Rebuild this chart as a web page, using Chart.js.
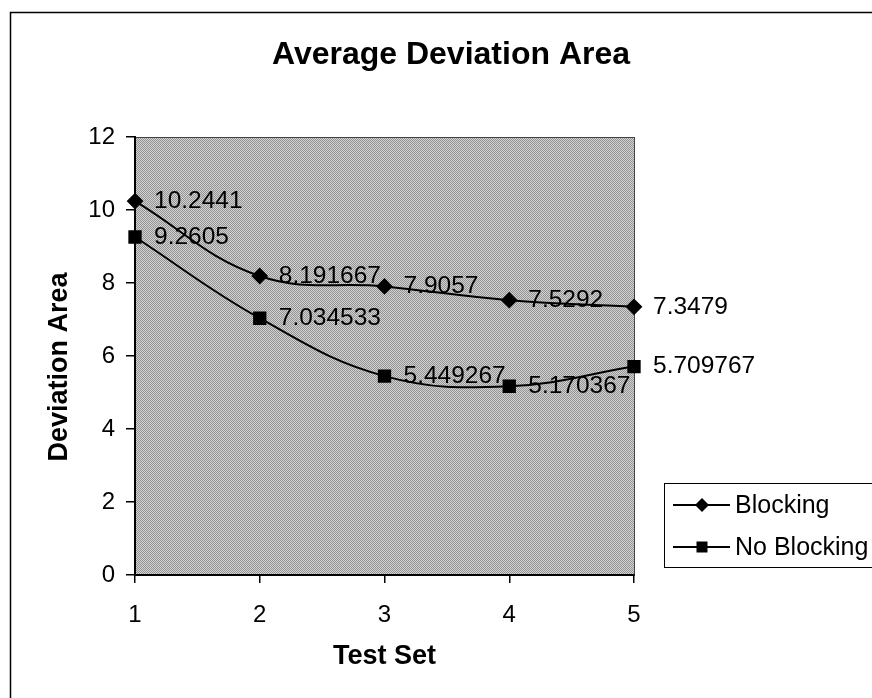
<!DOCTYPE html>
<html>
<head>
<meta charset="utf-8">
<title>Average Deviation Area</title>
<script src="https://cdn.jsdelivr.net/npm/chart.js"></script>
<style>
  html, body { margin: 0; padding: 0; background: #fff; }
  #wrap { width: 872px; height: 698px; }
</style>
</head>
<body>
<div id="wrap"><canvas id="devChart" width="872" height="698"></canvas></div>
<script>
const testSets = [1, 2, 3, 4, 5];
const blocking = [10.2441, 8.191667, 7.9057, 7.5292, 7.3479];
const noBlocking = [9.2605, 7.034533, 5.449267, 5.170367, 5.709767];
const yTicks = [0, 2, 4, 6, 8, 10, 12];

const FONT = '"Liberation Sans", Arial, sans-serif';

// dithered grey for the plot background
function ditherPattern(ctx) {
  const c = document.createElement('canvas');
  c.width = 2; c.height = 2;
  const g = c.getContext('2d');
  g.fillStyle = '#d2d2d2'; g.fillRect(0, 0, 2, 2);
  g.fillStyle = '#939393'; g.fillRect(0, 0, 1, 1); g.fillRect(1, 1, 1, 1);
  return ctx.createPattern(c, 'repeat');
}

function marker(ctx, style, x, y) {
  ctx.beginPath();
  if (style === 'rectRot') {
    ctx.moveTo(x, y - 7); ctx.lineTo(x + 7, y); ctx.lineTo(x, y + 7); ctx.lineTo(x - 7, y);
  } else {
    ctx.rect(x - 5.5, y - 5.5, 11, 11);
  }
  ctx.closePath();
  ctx.fill();
}

const frame = {
  id: 'frame',
  beforeDraw(chart) {
    const {ctx, chartArea: a} = chart;
    ctx.save();
    ctx.fillStyle = '#fff';
    ctx.fillRect(0, 0, chart.width, chart.height);
    ctx.strokeStyle = '#000';
    ctx.lineWidth = 1.5;
    ctx.beginPath();
    ctx.moveTo(10.5, chart.height);
    ctx.lineTo(10.5, 12.5);
    ctx.lineTo(chart.width, 12.5);
    ctx.stroke();
    ctx.fillStyle = ditherPattern(ctx);
    ctx.fillRect(a.left, a.top, a.right - a.left, a.bottom - a.top);
    ctx.strokeStyle = '#444';
    ctx.lineWidth = 1;
    ctx.strokeRect(a.left + 0.5, a.top + 0.5, a.right - a.left, a.bottom - a.top);
    ctx.fillStyle = '#000';
    ctx.textAlign = 'center';
    ctx.textBaseline = 'middle';
    // chart title
    ctx.font = 'bold 32px ' + FONT;
    ctx.fillText('Average Deviation Area', 451, 55);
    // value axis title
    ctx.translate(60, 367);
    ctx.rotate(-Math.PI / 2);
    ctx.font = 'bold 27px ' + FONT;
    ctx.fillText('Deviation Area', 0, 0);
    ctx.restore();
  }
};

const valueLabels = {
  id: 'valueLabels',
  afterDatasetsDraw(chart) {
    const {ctx} = chart;
    ctx.save();
    ctx.fillStyle = '#000';
    ctx.font = '24.5px ' + FONT;
    ctx.textAlign = 'left';
    ctx.textBaseline = 'middle';
    chart.data.datasets.forEach((ds, i) => {
      chart.getDatasetMeta(i).data.forEach((pt, j) => {
        ctx.fillText(String(ds.data[j].y), pt.x + 19, pt.y);
      });
    });
    ctx.restore();
  }
};

const boxLegend = {
  id: 'boxLegend',
  afterDraw(chart) {
    const {ctx} = chart;
    ctx.save();
    ctx.strokeStyle = '#000';
    ctx.lineWidth = 1;
    ctx.strokeRect(664.5, 483.5, 240, 84);
    const rows = [505, 547];
    chart.data.datasets.forEach((ds, i) => {
      const y = rows[i];
      ctx.strokeStyle = '#000';
      ctx.lineWidth = 2;
      ctx.beginPath();
      ctx.moveTo(673, y); ctx.lineTo(730, y);
      ctx.stroke();
      ctx.fillStyle = '#000';
      marker(ctx, ds.pointStyle, 702, y);
      ctx.font = '25px ' + FONT;
      ctx.textAlign = 'left';
      ctx.textBaseline = 'middle';
      ctx.fillText(ds.label, 735, y + 1);
    });
    ctx.restore();
  }
};

const toPoints = vals => vals.map((v, i) => ({x: testSets[i], y: v}));

new Chart(document.getElementById('devChart'), {
  type: 'line',
  data: {
    datasets: [{
      label: 'Blocking',
      data: toPoints(blocking),
      borderColor: '#000',
      backgroundColor: '#000',
      borderWidth: 2,
      pointStyle: 'rectRot',
      pointRadius: 7,
      tension: 0.4,
      clip: false
    }, {
      label: 'No Blocking',
      data: toPoints(noBlocking),
      borderColor: '#000',
      backgroundColor: '#000',
      borderWidth: 2,
      pointStyle: 'rect',
      pointRadius: 8,
      tension: 0.4,
      clip: false
    }]
  },
  options: {
    responsive: false,
    animation: false,
    layout: { padding: { left: 0, top: 137, right: 238, bottom: 0 } },
    plugins: {
      legend: { display: false },
      title: { display: false },
      tooltip: { enabled: false }
    },
    scales: {
      x: {
        type: 'linear',
        min: 1,
        max: 5,
        afterFit: s => { s.height = 123; },
        afterBuildTicks: s => { s.ticks = testSets.map(v => ({value: v})); },
        ticks: { color: '#000', font: { family: FONT, size: 24 }, padding: 18 },
        grid: { drawOnChartArea: false, color: '#000', lineWidth: 1.5, tickLength: 8 },
        border: { color: '#000', width: 2 },
        title: {
          display: true,
          text: 'Test Set',
          color: '#000',
          font: { family: FONT, size: 27, weight: 'bold', lineHeight: 1 },
          padding: { top: 0, bottom: 28 }
        }
      },
      y: {
        min: 0,
        max: 12,
        afterFit: s => { s.width = 135; },
        afterBuildTicks: s => { s.ticks = yTicks.map(v => ({value: v})); },
        ticks: { color: '#000', font: { family: FONT, size: 24 }, padding: 11 },
        grid: { drawOnChartArea: false, color: '#000', lineWidth: 1.5, tickLength: 9 },
        border: { color: '#000', width: 2 }
      }
    }
  },
  plugins: [frame, valueLabels, boxLegend]
});
</script>
</body>
</html>
